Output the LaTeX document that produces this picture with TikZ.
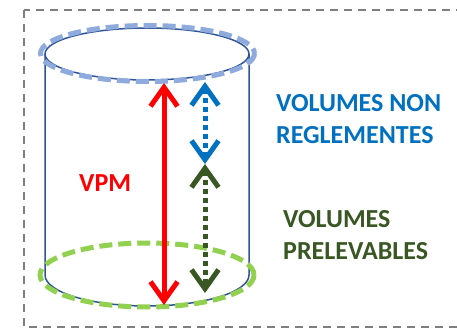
\documentclass[tikz,border=0pt]{standalone}
\usepackage{fontspec}
\setmainfont{Carlito}
\usetikzlibrary{arrows.meta}
\definecolor{framegray}{HTML}{7F7F7F}
\definecolor{tankblue}{HTML}{2F5597}
\definecolor{topblue}{HTML}{8FAADC}
\definecolor{nonblue}{HTML}{0070C0}
\definecolor{pregreen}{HTML}{385723}
\definecolor{lowgreen}{HTML}{92D050}
\definecolor{vpmred}{HTML}{FF0000}
\tikzset{outerframe/.style={draw=framegray,line width=2pt,dash pattern=on 8pt off 6pt},
    tank/.style={draw=tankblue,line width=1.5pt},
    waterline/.style={line width=5pt,dash pattern=on 13pt off 6pt},
    gauge/.style={line width=5pt,{Straight Barb[length=19pt,width=27pt,line width=5pt]}-{Straight Barb[length=19pt,width=27pt,line width=5pt]}},
    dots/.style={dash pattern=on 5pt off 4pt},
    tag/.style={font=\fontsize{26}{32}\selectfont\bfseries,inner sep=0pt,align=left}}

\begin{document}
\begin{tikzpicture}[x=1pt,y=-1pt]
\clip (0,0) rectangle (457,328);
\draw[outerframe] (24,10) rectangle (480,327);
\draw[tank] (147,54) ellipse[x radius=102,y radius=26];
\draw[tank] (45,54) -- (45,275) arc[start angle=180,end angle=0,x radius=102,y radius=31] -- (249,54);
\draw[waterline,draw=lowgreen] (147,275) ellipse[x radius=107,y radius=32];
\draw[waterline,draw=topblue] (147.5,53.5) ellipse[x radius=107,y radius=28];

\coordinate (vpmtop) at (164,83);
\coordinate (vpmbot) at (164,305);
\coordinate (nrtop) at (205,82);
\coordinate (split) at (205,164);
\coordinate (prbot) at (205,293);

\draw[gauge,draw=vpmred] (vpmtop) -- (vpmbot);
\draw[gauge,dots,draw=nonblue] (nrtop) -- (split);
\draw[gauge,dots,draw=pregreen] (split) -- (prbot);

\node[tag,text=vpmred,anchor=base west] (vpm) at (79,192) {VPM};
\node[tag,text=nonblue,anchor=north west] (nonreg) at (276,94) {VOLUMES NON\\REGLEMENTES};
\node[tag,text=pregreen,anchor=north west] (prelev) at (283,210) {VOLUMES\\PRELEVABLES};
\end{tikzpicture}
\end{document}
